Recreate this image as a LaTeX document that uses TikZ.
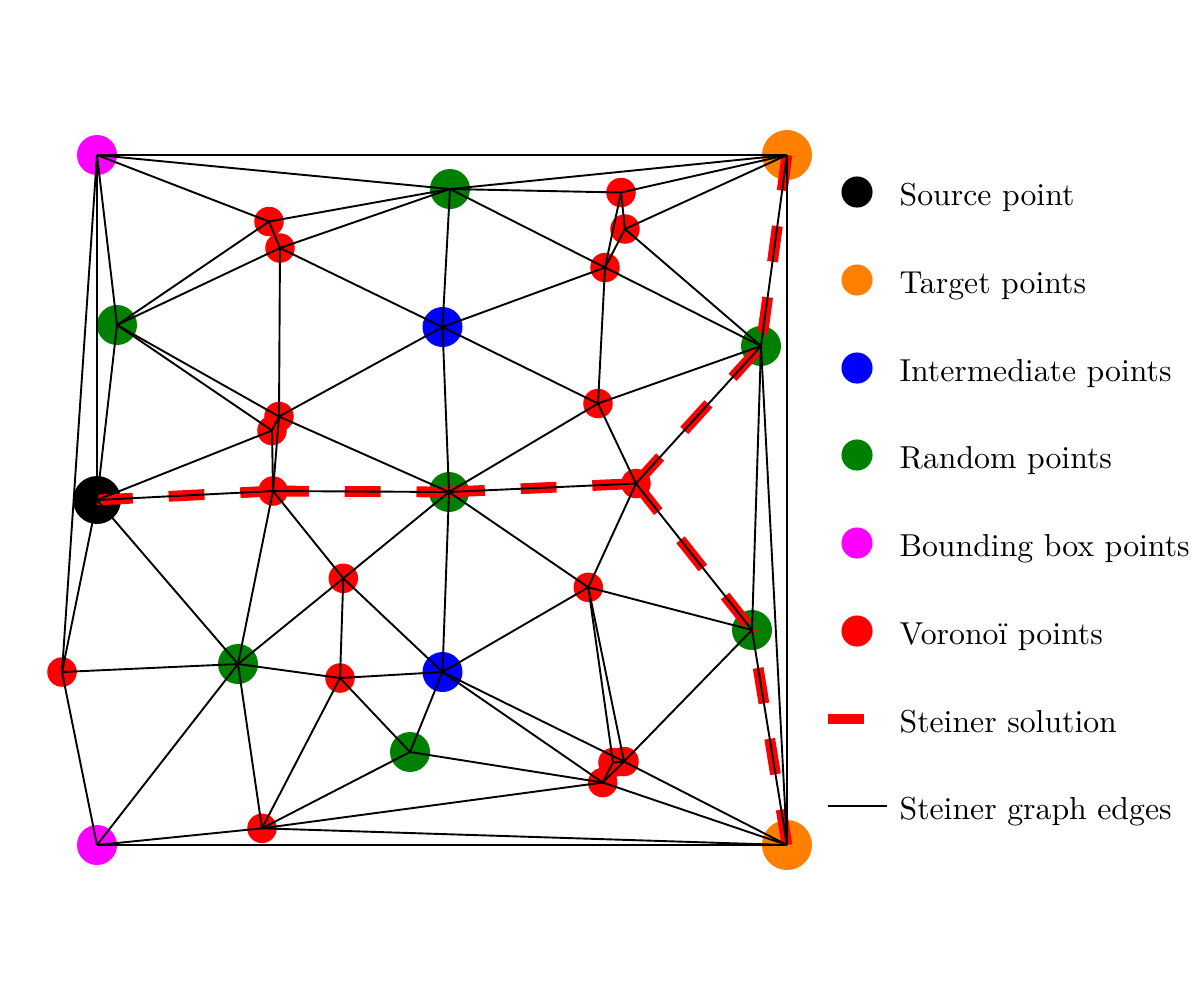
\documentclass[tikz,border=0pt]{standalone}
\usepackage{tikz}
\usepackage{xcolor}
\definecolor{mplgreen}{RGB}{0,128,0}
\definecolor{mplorange}{RGB}{255,128,0}
\definecolor{mplblue}{RGB}{0,0,255}
\definecolor{mplred}{RGB}{255,0,0}
\definecolor{mplmagenta}{RGB}{255,0,255}

\begin{document}
\begin{tikzpicture}[x=0.315pt,y=-0.315pt,
  vtx/.style={circle,inner sep=0pt,minimum size=12.6pt},
  source/.style={vtx,fill=black,minimum size=15.1pt},
  target/.style={vtx,fill=mplorange,minimum size=15.75pt},
  inter/.style={vtx,fill=mplblue},
  rnd/.style={vtx,fill=mplgreen},
  bbox/.style={vtx,fill=mplmagenta},
  voro/.style={vtx,fill=mplred,minimum size=9.3pt},
  legpt/.style={circle,inner sep=0pt,minimum size=9.8pt},
  legtext/.style={anchor=base west,inner sep=0pt},
  graphedge/.style={line width=0.6pt},
  solution/.style={mplred,line width=3.4pt,dash pattern=on 11.3pt off 11.3pt}]
  \useasboundingbox (0,0) rectangle (1200,1000);

  % points
  \node[bbox] (bbtl) at (97,155) {};
  \node[bbox] (bbbl) at (97,845) {};
  \node[target] (t1) at (787,155) {};
  \node[target] (t2) at (787,845) {};
  \node[source] (s) at (97,500) {};
  \node[inter] (b1) at (442.5,327) {};
  \node[inter] (b2) at (442.5,672) {};
  \node[rnd] (g1) at (450,189) {};
  \node[rnd] (g2) at (117,325) {};
  \node[rnd] (g3) at (449,492) {};
  \node[rnd] (g4) at (761,346) {};
  \node[rnd] (g5) at (238,664) {};
  \node[rnd] (g6) at (410,752) {};
  \node[rnd] (g7) at (752,630) {};
  % voronoi points
  \node[voro] (v1) at (269,221.5) {};
  \node[voro] (v2) at (280,248) {};
  \node[voro] (v3) at (279,416.5) {};
  \node[voro] (v4) at (272,430.5) {};
  \node[voro] (v5) at (273,491) {};
  \node[voro] (v6) at (621,192.5) {};
  \node[voro] (v7) at (625,229) {};
  \node[voro] (v8) at (605,267.5) {};
  \node[voro] (v9) at (598,403.5) {};
  \node[voro] (v10) at (636,483.5) {};
  \node[voro] (v11) at (343.3,578.3) {};
  \node[voro] (v12) at (62,672) {};
  \node[voro] (v13) at (340,678) {};
  \node[voro] (v14) at (262,828.3) {};
  \node[voro] (v15) at (588.3,587.3) {};
  \node[voro] (v16) at (613,762.5) {};
  \node[voro] (v17) at (624,761.5) {};
  \node[voro] (v18) at (602.7,782.5) {};

  % steiner solution
  \foreach \a/\b in {s/v5,v5/g3,g3/v10,v10/g4,t1/g4,v10/g7,t2/g7}
    \draw[solution] (\a.center) -- (\b.center);

  % steiner graph edges
  \foreach \a/\b in {bbtl/t1,bbtl/g1,bbtl/v1,bbtl/g2,bbtl/s,bbtl/v12,
      t1/g1,t1/v6,t1/v7,t1/g4,t1/t2,
      g1/v1,g1/v2,g1/v6,g1/b1,g1/v8,
      v1/v2,v1/g2,v2/g2,v2/b1,v2/v3,
      g2/v3,g2/v4,g2/s,
      v3/v4,v3/v5,v3/g3,v3/b1,v4/v5,v4/s,
      s/v5,s/g5,s/v12,v5/g3,v5/g5,v5/v11,
      b1/g3,b1/v8,b1/v9,
      v6/v7,v6/v8,v7/v8,v7/g4,v8/v9,v8/g4,
      v9/g4,v9/g3,v9/v10,
      v10/g3,v10/g4,v10/v15,v10/g7,
      g4/g7,g4/t2,
      g3/v11,g3/b2,g3/v15,
      v11/g5,v11/v13,v11/b2,
      v12/g5,v12/bbbl,
      g5/v13,g5/bbbl,g5/v14,
      v13/b2,v13/v14,v13/g6,
      g6/b2,g6/v14,g6/v18,
      v14/bbbl,v14/v18,v14/t2,bbbl/t2,
      b2/v15,b2/v17,b2/v18,
      v15/g7,v15/v16,v15/v17,
      g7/v17,g7/t2,
      v16/v17,v16/v18,v17/v18,v17/t2,v18/t2}
    \draw[graphedge] (\a.center) -- (\b.center);

  % legend
  \node[legpt,fill=black] (legsrc) at (857,192) {};
  \node[legtext] (txtsrc) at (899,205) {Source point};
  \node[legpt,fill=mplorange] (legtgt) at (857,280) {};
  \node[legtext] (txttgt) at (899,293) {Target points};
  \node[legpt,fill=mplblue] (legint) at (857,368) {};
  \node[legtext] (txtint) at (899,381) {Intermediate points};
  \node[legpt,fill=mplgreen] (legrnd) at (857,455) {};
  \node[legtext] (txtrnd) at (899,468) {Random points};
  \node[legpt,fill=mplmagenta] (legbb) at (857,543) {};
  \node[legtext] (txtbb) at (899,556) {Bounding box points};
  \node[legpt,fill=mplred] (legvor) at (857,631) {};
  \node[legtext] (txtvor) at (899,644) {Voronoï points};
  \coordinate (solA) at (828,719);
  \coordinate (solB) at (864,719);
  \draw[mplred,line width=3.4pt] (solA) -- (solB);
  \node[legtext] (txtsol) at (899,732) {Steiner solution};
  \coordinate (edgA) at (828,806);
  \coordinate (edgB) at (887,806);
  \draw[graphedge] (edgA) -- (edgB);
  \node[legtext] (txtedg) at (899,819) {Steiner graph edges};
\end{tikzpicture}
\end{document}
